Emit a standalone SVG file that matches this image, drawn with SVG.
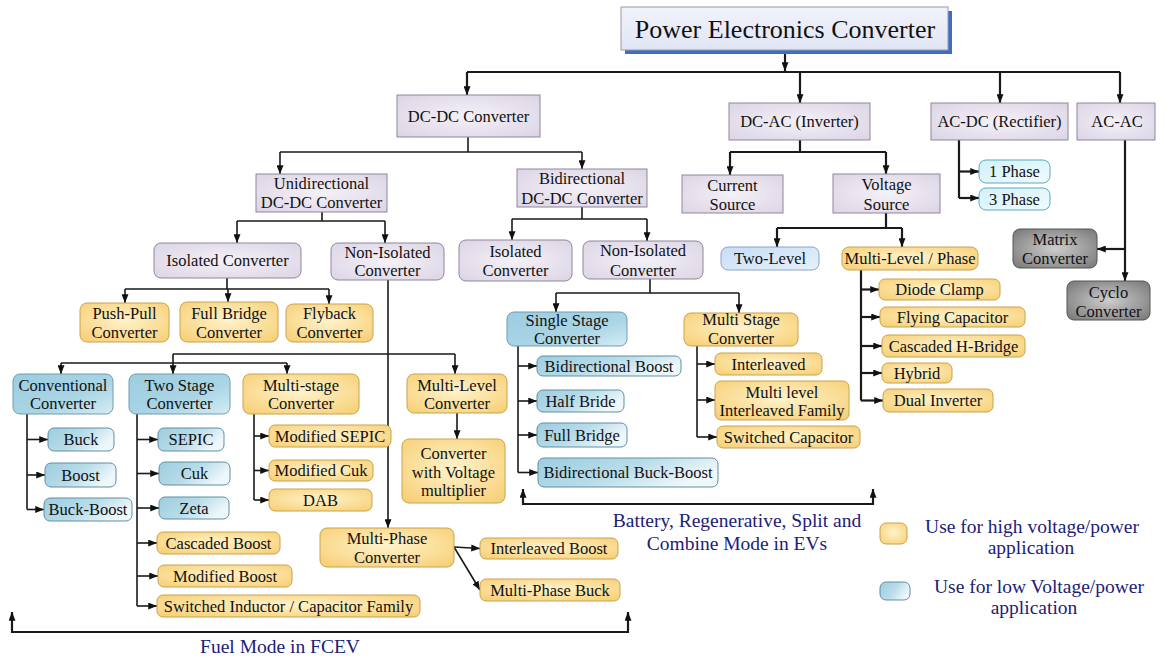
<svg xmlns="http://www.w3.org/2000/svg" width="1164" height="659" viewBox="0 0 1164 659">
<style>
text{font-family:"Liberation Serif","Times New Roman",serif;font-size:16.5px;fill:#111;text-anchor:middle}
.lav{fill:url(#gLav);stroke:#8d879a;stroke-width:1}
.or{fill:url(#gOr);stroke:#c9a24e;stroke-width:1}
.bl{fill:url(#gBl);stroke:#6d9db0;stroke-width:1}
.bll{fill:url(#gBlLeaf);stroke:#5e8fa3;stroke-width:1}
.tl{fill:url(#gTwo);stroke:#86a6c6;stroke-width:1}
.cy{fill:url(#gCy);stroke:#5aa9bd;stroke-width:1}
.gr{fill:url(#gGray);stroke:#555;stroke-width:1}
.c{fill:none;stroke:#1a1a1a;stroke-width:1.6}
.t{stroke-width:2.2}
.a{marker-end:url(#ah)}
.ab{marker-start:url(#ah);marker-end:url(#ah)}
.note{fill:#1c2176;font-size:19.5px}
</style>
<defs>
<marker id="ah" viewBox="0 0 10 8" refX="10" refY="4" markerWidth="9" markerHeight="7" markerUnits="userSpaceOnUse" orient="auto-start-reverse"><path d="M0,0 L10,4 L0,8 z" fill="#111"/></marker>
<radialGradient id="gLav" cx="50%" cy="50%" r="70%"><stop offset="0" stop-color="#f4f1f7"/><stop offset="1" stop-color="#dcd4e5"/></radialGradient>
<radialGradient id="gOr" cx="50%" cy="45%" r="70%"><stop offset="0" stop-color="#fff3cc"/><stop offset="1" stop-color="#f7cf74"/></radialGradient>
<linearGradient id="gBl" x1="0" y1="0" x2="1" y2="1"><stop offset="0" stop-color="#9ccde0"/><stop offset="0.6" stop-color="#aad5e5"/><stop offset="1" stop-color="#d6ecf4"/></linearGradient>
<linearGradient id="gBlLeaf" x1="0" y1="0" x2="1" y2="0.4"><stop offset="0" stop-color="#9dcde0"/><stop offset="0.55" stop-color="#b8dce9"/><stop offset="1" stop-color="#eef7fa"/></linearGradient>
<linearGradient id="gTwo" x1="0" y1="0" x2="1" y2="1"><stop offset="0" stop-color="#c7ddf4"/><stop offset="1" stop-color="#e6f1fb"/></linearGradient>
<linearGradient id="gCy" x1="0" y1="0" x2="1" y2="1"><stop offset="0" stop-color="#d2f1f9"/><stop offset="1" stop-color="#f0fbfd"/></linearGradient>
<radialGradient id="gGray" cx="50%" cy="50%" r="65%"><stop offset="0" stop-color="#cdcdcd"/><stop offset="1" stop-color="#7c7c7c"/></radialGradient>
<linearGradient id="gTitle" x1="0" y1="0" x2="0" y2="1"><stop offset="0" stop-color="#f1f3fb"/><stop offset="1" stop-color="#e0e5f4"/></linearGradient>
</defs>

<g id="connectors">
<path class="c t a" d="M785,50 V71"/>
<path class="c t" d="M467,72 H1120"/>
<path class="c t a" d="M467,72 V95"/>
<path class="c t a" d="M800,72 V103"/>
<path class="c t a" d="M1000,72 V103"/>
<path class="c t a" d="M1120,72 V103"/>
<path class="c" d="M468,137 V152 M280,152 H582"/>
<path class="c a" d="M280,152 V174"/>
<path class="c a" d="M582,152 V169"/>
<path class="c t" d="M800,140 V152 M730,152 H886"/>
<path class="c t a" d="M730,152 V175"/>
<path class="c t a" d="M886,152 V174"/>
<path class="c t" d="M959,140 V198"/>
<path class="c t a" d="M959,171.5 H979"/>
<path class="c t a" d="M959,198 H979"/>
<path class="c t a" d="M1125,140 V281"/>
<path class="c t a" d="M1125,249 H1097"/>
<path class="c" d="M322,212 V221 M237,221 H385"/>
<path class="c a" d="M237,221 V243"/>
<path class="c a" d="M385,221 V243"/>
<path class="c" d="M227,278 V289 M125,289 H329"/>
<path class="c a" d="M125,289 V303"/>
<path class="c a" d="M228,289 V302"/>
<path class="c a" d="M329,289 V304"/>
<path class="c a" d="M388,280 V528"/>
<path class="c" d="M173,354 H455 M61,363 H287"/>
<path class="c a" d="M61,363 V374"/>
<path class="c a" d="M173,354 V374"/>
<path class="c a" d="M287,363 V374"/>
<path class="c a" d="M455,354 V374"/>
<path class="c" d="M27,414 V509.5"/>
<path class="c a" d="M27,439.5 H48"/>
<path class="c a" d="M27,475 H45"/>
<path class="c a" d="M27,509.5 H44"/>
<path class="c" d="M137,414 V606"/>
<path class="c a" d="M137,439.5 H158"/>
<path class="c a" d="M137,473.5 H159"/>
<path class="c a" d="M137,508 H159"/>
<path class="c a" d="M137,543 H157"/>
<path class="c a" d="M137,576 H158"/>
<path class="c a" d="M137,606 H157"/>
<path class="c" d="M254,414 V500"/>
<path class="c a" d="M254,436 H269"/>
<path class="c a" d="M254,470.5 H269"/>
<path class="c a" d="M254,500 H269"/>
<path class="c a" d="M457,413 V439"/>
<path class="c a" d="M454,547 L480,548.5"/>
<path class="c a" d="M454,547 L480,590"/>
<path class="c" d="M582,207 V219 M512,219 H647"/>
<path class="c a" d="M512,219 V240"/>
<path class="c a" d="M647,219 V241"/>
<path class="c" d="M650,279 V293 M556,293 H739"/>
<path class="c a" d="M556,293 V312"/>
<path class="c a" d="M739,293 V313"/>
<path class="c" d="M518,346 V472.5"/>
<path class="c a" d="M518,366 H537"/>
<path class="c a" d="M518,401 H537"/>
<path class="c a" d="M518,435 H537"/>
<path class="c a" d="M518,472.5 H538"/>
<path class="c" d="M697,346 V437"/>
<path class="c a" d="M697,364 H715"/>
<path class="c a" d="M697,400 H715"/>
<path class="c a" d="M697,437 H717"/>
<path class="c t" d="M886,213 V228 M777,228 H902"/>
<path class="c t a" d="M777,228 V247"/>
<path class="c t a" d="M902,228 V247"/>
<path class="c t" d="M861,270 V400.5"/>
<path class="c t a" d="M861,289.5 H879"/>
<path class="c t a" d="M861,317 H880"/>
<path class="c t a" d="M861,346 H882"/>
<path class="c t a" d="M861,373 H882"/>
<path class="c t a" d="M861,400.5 H883"/>
<path class="c t ab" d="M523,489 V504 H873 V489"/>
<path class="c t ab" d="M12,612 V632 H628 V612"/>
</g>

<g id="title">
<rect x="625" y="11" width="327" height="43" fill="#3d6ec3"/>
<rect x="621" y="7" width="327" height="43" fill="url(#gTitle)" stroke="#9a9aa6" stroke-width="1"/>
<text x="785" y="38" style="font-size:26px">Power Electronics Converter</text>
</g>

<g id="dcdc"><rect class="lav" x="397" y="95" width="143" height="42"/><text x="468.5" y="121.5">DC-DC Converter</text></g>
<g id="dcac"><rect class="lav" x="729" y="103" width="141" height="37"/><text x="799.5" y="127">DC-AC (Inverter)</text></g>
<g id="acdc"><rect class="lav" x="931" y="103" width="137" height="37"/><text x="999.5" y="127">AC-DC (Rectifier)</text></g>
<g id="acac"><rect class="lav" x="1077" y="103" width="78" height="37"/><text x="1117" y="127">AC-AC</text></g>

<g id="unidirectional"><rect class="lav" x="256" y="174" width="131" height="38"/><text x="321.5" y="188.5">Unidirectional</text><text x="321.5" y="208">DC-DC Converter</text></g>
<g id="bidirectional"><rect class="lav" x="517" y="169" width="130" height="38"/><text x="582" y="183.5">Bidirectional</text><text x="582" y="203.5">DC-DC Converter</text></g>
<g id="current-source"><rect class="lav" x="682" y="175" width="101" height="38"/><text x="732.5" y="190.5">Current</text><text x="732.5" y="209.5">Source</text></g>
<g id="voltage-source"><rect class="lav" x="833" y="174" width="107" height="39"/><text x="886.5" y="190">Voltage</text><text x="886.5" y="209.5">Source</text></g>

<g id="isolated-uni"><rect class="lav" x="154" y="243" width="147" height="35" rx="7"/><text x="227.5" y="265.5">Isolated Converter</text></g>
<g id="nonisolated-uni"><rect class="lav" x="331" y="243" width="113" height="37" rx="7"/><text x="387.5" y="257.5">Non-Isolated</text><text x="387.5" y="275.5">Converter</text></g>
<g id="isolated-bi"><rect class="lav" x="459" y="240" width="113" height="41" rx="7"/><text x="515.5" y="256.5">Isolated</text><text x="515.5" y="275.5">Converter</text></g>
<g id="nonisolated-bi"><rect class="lav" x="583" y="241" width="120" height="38" rx="7"/><text x="643" y="255.5">Non-Isolated</text><text x="643" y="275.5">Converter</text></g>

<g id="push-pull"><rect class="or" x="80" y="303" width="89" height="39" rx="7"/><text x="124.5" y="318.5">Push-Pull</text><text x="124.5" y="337.5">Converter</text></g>
<g id="full-bridge"><rect class="or" x="180" y="302" width="98" height="40" rx="7"/><text x="229" y="318.5">Full Bridge</text><text x="229" y="337.5">Converter</text></g>
<g id="flyback"><rect class="or" x="286" y="304" width="87" height="38" rx="7"/><text x="329.5" y="318.5">Flyback</text><text x="329.5" y="337.5">Converter</text></g>

<g id="conventional"><rect class="bl" x="13" y="374" width="100" height="40" rx="7"/><text x="63" y="390.5">Conventional</text><text x="63" y="408.5">Converter</text></g>
<g id="two-stage"><rect class="bl" x="129" y="374" width="101" height="40" rx="7"/><text x="179.5" y="390.5">Two Stage</text><text x="179.5" y="408.5">Converter</text></g>
<g id="multi-stage"><rect class="or" x="243" y="374" width="116" height="40" rx="7"/><text x="301" y="390.5">Multi-stage</text><text x="301" y="408.5">Converter</text></g>
<g id="multi-level"><rect class="or" x="407" y="374" width="100" height="39" rx="7"/><text x="457" y="390.5">Multi-Level</text><text x="457" y="408.5">Converter</text></g>

<g id="buck"><rect class="bll" x="48" y="428" width="66" height="23" rx="6"/><text x="81" y="445">Buck</text></g>
<g id="boost"><rect class="bll" x="45" y="463" width="71" height="24" rx="6"/><text x="80.5" y="480.5">Boost</text></g>
<g id="buck-boost"><rect class="bll" x="44" y="498" width="88" height="23" rx="6"/><text x="88" y="515">Buck-Boost</text></g>
<g id="sepic"><rect class="bll" x="158" y="428" width="66" height="23" rx="6"/><text x="191" y="445">SEPIC</text></g>
<g id="cuk"><rect class="bll" x="159" y="462" width="71" height="23" rx="6"/><text x="194.5" y="479">Cuk</text></g>
<g id="zeta"><rect class="bll" x="159" y="497" width="70" height="22" rx="6"/><text x="194" y="513.5">Zeta</text></g>
<g id="cascaded-boost"><rect class="or" x="157" y="532" width="123" height="22" rx="6"/><text x="218.5" y="548.5">Cascaded Boost</text></g>
<g id="modified-boost"><rect class="or" x="158" y="565" width="134" height="22" rx="6"/><text x="225" y="581.5">Modified Boost</text></g>
<g id="switched-inductor"><rect class="or" x="157" y="595" width="263" height="22" rx="6"/><text x="288.5" y="611.5">Switched Inductor / Capacitor Family</text></g>
<g id="modified-sepic"><rect class="or" x="269" y="425" width="122" height="22" rx="6"/><text x="330" y="441.5">Modified SEPIC</text></g>
<g id="modified-cuk"><rect class="or" x="269" y="460" width="104" height="21" rx="6"/><text x="321" y="476">Modified Cuk</text></g>
<g id="dab"><rect class="or" x="269" y="489" width="103" height="22" rx="6"/><text x="320.5" y="505.5">DAB</text></g>
<g id="voltage-multiplier"><rect class="or" x="402" y="439" width="103" height="64" rx="7"/><text x="453.5" y="458.5">Converter</text><text x="453.5" y="477.5">with Voltage</text><text x="453.5" y="495.5">multiplier</text></g>
<g id="multi-phase"><rect class="or" x="320" y="528" width="134" height="39" rx="7"/><text x="387" y="543.5">Multi-Phase</text><text x="387" y="562.5">Converter</text></g>
<g id="interleaved-boost"><rect class="or" x="480" y="538" width="138" height="21" rx="6"/><text x="549" y="554">Interleaved Boost</text></g>
<g id="multi-phase-buck"><rect class="or" x="480" y="579" width="140" height="22" rx="6"/><text x="550" y="595.5">Multi-Phase Buck</text></g>

<g id="single-stage"><rect class="bl" x="507" y="312" width="120" height="34" rx="7"/><text x="567" y="325.5">Single Stage</text><text x="567" y="343.5">Converter</text></g>
<g id="multi-stage-bi"><rect class="or" x="684" y="313" width="114" height="33" rx="7"/><text x="741" y="325">Multi Stage</text><text x="741" y="343.5">Converter</text></g>
<g id="bidirectional-boost"><rect class="bll" x="537" y="356" width="144" height="20" rx="6"/><text x="609" y="371.5">Bidirectional Boost</text></g>
<g id="half-bride"><rect class="bll" x="537" y="390" width="87" height="22" rx="6"/><text x="580.5" y="406.5">Half Bride</text></g>
<g id="full-bridge-bi"><rect class="bll" x="537" y="423" width="90" height="24" rx="6"/><text x="582" y="440.5">Full Bridge</text></g>
<g id="bidirectional-buck-boost"><rect class="bll" x="538" y="458" width="180" height="29" rx="6"/><text x="628" y="478">Bidirectional Buck-Boost</text></g>
<g id="interleaved"><rect class="or" x="715" y="353" width="107" height="22" rx="6"/><text x="768.5" y="369.5">Interleaved</text></g>
<g id="multi-level-interleaved"><rect class="or" x="715" y="381" width="134" height="39" rx="6"/><text x="782" y="397.5">Multi level</text><text x="782" y="415.5">Interleaved Family</text></g>
<g id="switched-capacitor"><rect class="or" x="717" y="426" width="143" height="22" rx="6"/><text x="788.5" y="442.5">Switched Capacitor</text></g>

<g id="two-level"><rect class="tl" x="721" y="247" width="98" height="23" rx="7"/><text x="770" y="264">Two-Level</text></g>
<g id="multi-level-phase"><rect class="or" x="842" y="247" width="136" height="23" rx="7"/><text x="910" y="264">Multi-Level / Phase</text></g>
<g id="diode-clamp"><rect class="or" x="879" y="279" width="121" height="21" rx="6"/><text x="939.5" y="295">Diode Clamp</text></g>
<g id="flying-capacitor"><rect class="or" x="880" y="307" width="145" height="20" rx="6"/><text x="952.5" y="322.5">Flying Capacitor</text></g>
<g id="cascaded-h-bridge"><rect class="or" x="882" y="335" width="143" height="22" rx="6"/><text x="953.5" y="351.5">Cascaded H-Bridge</text></g>
<g id="hybrid"><rect class="or" x="882" y="363" width="70" height="20" rx="6"/><text x="917" y="378.5">Hybrid</text></g>
<g id="dual-inverter"><rect class="or" x="883" y="389" width="110" height="23" rx="6"/><text x="938" y="406">Dual Inverter</text></g>

<g id="phase1"><rect class="cy" x="979" y="160" width="71" height="23" rx="7"/><text x="1014.5" y="177">1 Phase</text></g>
<g id="phase3"><rect class="cy" x="979" y="188" width="71" height="22" rx="7"/><text x="1014.5" y="204.5">3 Phase</text></g>
<g id="matrix"><rect class="gr" x="1013" y="229" width="84" height="39" rx="7"/><text x="1055" y="244.5">Matrix</text><text x="1055" y="263.5">Converter</text></g>
<g id="cyclo"><rect class="gr" x="1067" y="281" width="83" height="39" rx="7"/><text x="1108.5" y="297.5">Cyclo</text><text x="1108.5" y="316.5">Converter</text></g>

<g id="battery-note"><text class="note" x="737" y="527">Battery, Regenerative, Split and</text><text class="note" x="737" y="550">Combine Mode in EVs</text></g>
<g id="fuel-note"><text class="note" x="280" y="653">Fuel Mode in FCEV</text></g>

<g id="legend">
<rect class="or" x="880" y="523" width="27" height="21" rx="6"/>
<text class="note" x="1032" y="533">Use for high voltage/power</text>
<text class="note" x="1031" y="554">application</text>
<rect class="bll" x="880" y="582" width="30" height="18" rx="6"/>
<text class="note" x="1039" y="593">Use for low Voltage/power</text>
<text class="note" x="1034" y="614">application</text>
</g>
</svg>
